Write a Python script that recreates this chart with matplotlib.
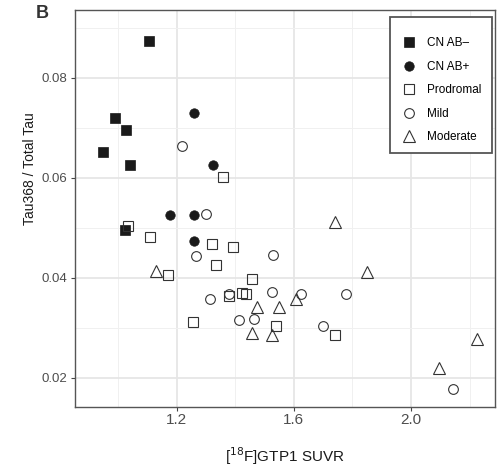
import matplotlib
matplotlib.use("Agg")
import matplotlib.pyplot as plt
from matplotlib.patches import Rectangle
from matplotlib.ticker import FixedLocator

plt.rcParams['font.family'] = ['Liberation Sans', 'DejaVu Sans']

# ── data ─────────────────────────────────────────────────────────────────────
cn_neg_x = [1.106, 0.990, 1.028, 0.948, 1.040, 1.023]
cn_neg_y = [0.0873, 0.0720, 0.0695, 0.0651, 0.0626, 0.0496]

cn_pos_x = [1.258, 1.324, 1.177, 1.258, 1.261]
cn_pos_y = [0.0729, 0.0625, 0.0526, 0.0526, 0.0473]

prod_x = [1.360, 1.033, 1.108, 1.320, 1.393, 1.335, 1.172, 1.458, 1.380,
          1.422, 1.437, 1.257, 1.539, 1.740]
prod_y = [0.0601, 0.0503, 0.0482, 0.0467, 0.0462, 0.0425, 0.0405, 0.0397,
          0.0364, 0.0369, 0.0367, 0.0311, 0.0304, 0.0285]

mild_x = [1.220, 1.302, 1.268, 1.530, 1.314, 1.380, 1.525, 1.623, 1.778,
          1.414, 1.465, 1.699, 2.142]
mild_y = [0.0663, 0.0527, 0.0443, 0.0446, 0.0358, 0.0368, 0.0371, 0.0368,
          0.0368, 0.0316, 0.0318, 0.0303, 0.0178]

mod_x = [1.130, 1.740, 1.850, 1.473, 1.550, 1.606, 1.457, 1.526, 2.095, 2.225]
mod_y = [0.0413, 0.0511, 0.0411, 0.0341, 0.0341, 0.0358, 0.0290, 0.0286,
         0.0220, 0.0277]

x_ticks = [1.2, 1.6, 2.0]
y_ticks = [0.02, 0.04, 0.06, 0.08]
x_minor = [1.0, 1.4, 1.8, 2.2]
y_minor = [0.03, 0.05, 0.07, 0.09]
labels = ['CN AB\u2013', 'CN AB+', 'Prodromal', 'Mild', 'Moderate']

# ── plot ─────────────────────────────────────────────────────────────────────
W, H = 498, 466
fig = plt.figure(figsize=(W / 100, H / 100), dpi=100)
ax = fig.add_axes([74.5 / W, 1 - 406.5 / H, (495 - 74.5) / W, (406.5 - 10) / H])

ink = '#1a1a1a'
edge = '#333333'
styles = [
    dict(marker='s', ms=7.2, mfc=ink, mec=ink, mew=0.5),
    dict(marker='o', ms=6.8, mfc=ink, mec=ink, mew=0.5),
    dict(marker='s', ms=7.0, mfc='none', mec=edge, mew=0.8),
    dict(marker='o', ms=7.0, mfc='none', mec=edge, mew=0.8),
    dict(marker='^', ms=9.0, mfc='none', mec=edge, mew=0.8),
]
series = [(cn_neg_x, cn_neg_y), (cn_pos_x, cn_pos_y), (prod_x, prod_y),
          (mild_x, mild_y), (mod_x, mod_y)]
handles = []
for (xs, ys), st, lab in zip(series, styles, labels):
    h, = ax.plot(xs, ys, ls='none', label=lab, zorder=3, **st)
    handles.append(h)

ax.set_xlim(0.852, 2.286)
ax.set_ylim(0.01426, 0.0935)
ax.set_xticks(x_ticks)
ax.set_yticks(y_ticks)
ax.set_xticklabels([f'{v:.1f}' for v in x_ticks])
ax.set_yticklabels([f'{v:.2f}' for v in y_ticks])
ax.xaxis.set_minor_locator(FixedLocator(x_minor))
ax.yaxis.set_minor_locator(FixedLocator(y_minor))

ax.grid(True, which='major', color='#e6e6e6', lw=1.3, zorder=0)
ax.grid(True, which='minor', color='#f0f0f0', lw=0.7, zorder=0)
ax.set_axisbelow(True)
ax.tick_params(which='major', length=3, width=0.8, color='#444444',
               labelcolor='#4d4d4d', pad=2)
ax.tick_params(axis='x', labelsize=11)
ax.tick_params(axis='y', labelsize=9.5)
ax.tick_params(which='minor', length=0)
for sp in ax.spines.values():
    sp.set_color('#555555')
    sp.set_linewidth(1.0)

ax.set_xlabel(r'[$^{18}$F]GTP1 SUVR', fontsize=11, color=ink, labelpad=13)
fig.text(30 / W, 1 - 169 / H, 'Tau368 / Total Tau', rotation=90,
         ha='center', va='center', fontsize=10, color=ink)
fig.text(36 / W, 1 - 13 / H, 'B', fontsize=13, fontweight='bold',
         ha='left', va='center', color='#333333')

# legend: entries without frame, box drawn separately underneath
box = Rectangle((390 / W, 1 - 153 / H), 102 / W, 136 / H,
                transform=fig.transFigure, facecolor='white',
                edgecolor='#555555', lw=1.3, zorder=4, clip_on=False)
ax.add_patch(box)
leg = ax.legend(handles, labels, loc='upper left', bbox_to_anchor=(402 / W, 1 - 37.5 / H),
                bbox_transform=fig.transFigure, fontsize=8.5, frameon=False,
                labelspacing=0.97, handlelength=1.2, handletextpad=0.93,
                borderpad=0, borderaxespad=0)
leg.set_zorder(6)

fig.savefig('out.png', dpi=100)
